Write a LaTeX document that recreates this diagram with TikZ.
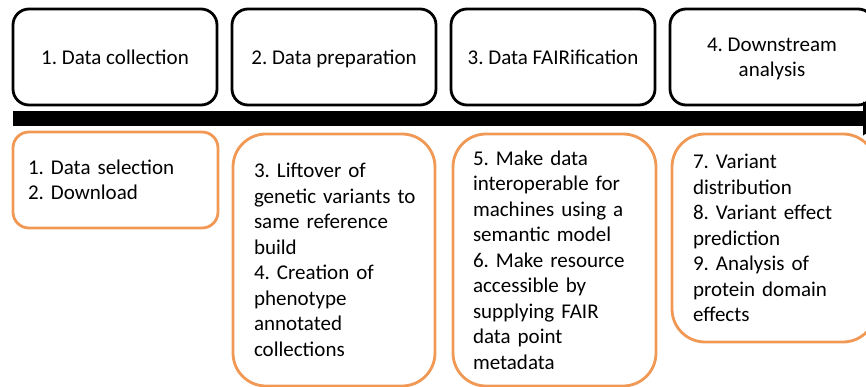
\documentclass[tikz,border=0pt]{standalone}
\usepackage{fontspec}
\setmainfont{Carlito}
\usetikzlibrary{arrows.meta}
\definecolor{stepline}{RGB}{241,152,84}
\begin{document}
\frenchspacing
\begin{tikzpicture}[x=1pt,y=-1pt,
  every node/.style={font=\fontsize{21}{25.5}\selectfont, inner sep=0pt},
  phase/.style={draw=black, line width=2.8pt, rounded corners=16pt,
    minimum width=204pt, minimum height=96pt, align=center},
  oneline/.style={text height=16pt, text depth=0pt},
  task/.style={draw=stepline, line width=2.8pt, align=left},
  shortbox/.style={task, rounded corners=16pt},
  tallbox/.style={task, rounded corners=33pt}]
\useasboundingbox (0,0) rectangle (866,387);
\clip (0,0) rectangle (866,387);

% phase headers
\node[phase, oneline] (h1) at (115,57) {1. Data collection};
\node[phase, oneline] (h2) at (334,57) {2. Data preparation};
\node[phase, oneline] (h3) at (553,57) {3. Data FAIRification};
\node[phase] (h4) at (772,57) {\strut 4. Downstream\\analysis\rule[-2.6pt]{0pt}{1pt}};

% timeline arrow
\coordinate (tstart) at (13,118.5);
\coordinate (tend) at (890,118.5);
\draw[line width=14.5pt, -{Triangle[length=27pt,width=32pt]}] (tstart) -- (tend);

% tasks per phase
\node[shortbox, minimum width=205pt, minimum height=96pt, text width=175pt]
  (t1) at (115.5,180) {1. Data selection\\2. Download};
\node[tallbox, minimum width=202pt, minimum height=252pt, text width=160pt]
  (t2) at (334,260) {\mbox{3. Liftover of}\\\mbox{genetic variants to}\\\mbox{same reference}\\build\\\mbox{4. Creation of}\\phenotype\\annotated\\collections};
\node[tallbox, minimum width=203pt, minimum height=252pt, text width=163pt]
  (t3) at (554.5,260) {\mbox{5. Make data}\\\mbox{interoperable for}\\\mbox{machines using a}\\\mbox{semantic model}\\\mbox{6. Make resource}\\\mbox{accessible by}\\\mbox{supplying FAIR}\\\mbox{data point}\\metadata};
\node[tallbox, minimum width=204pt, minimum height=208pt, text width=162pt]
  (t4) at (774,238) {\mbox{7. Variant}\\distribution\\\mbox{8. Variant effect}\\prediction\\\mbox{9. Analysis of}\\\mbox{protein domain}\\effects};
\end{tikzpicture}
\end{document}
